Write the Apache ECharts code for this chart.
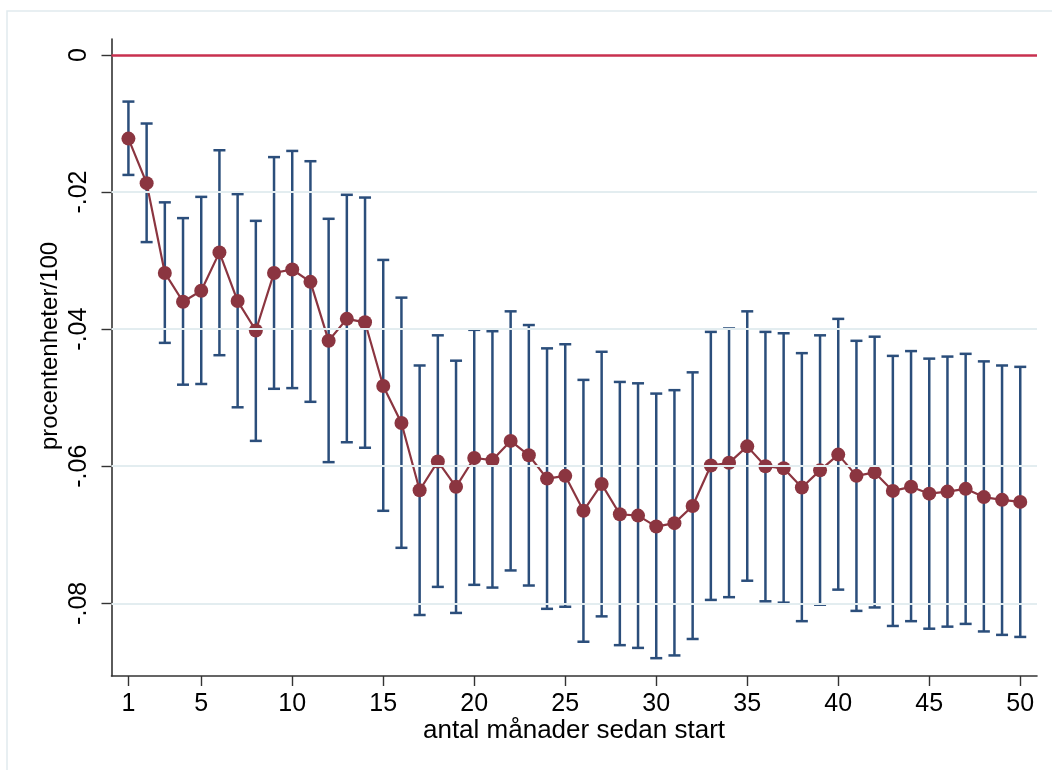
<!DOCTYPE html>
<html><head><meta charset="utf-8">
<script src="https://cdn.jsdelivr.net/npm/echarts@6/dist/echarts.min.js"></script>
<style>html,body{margin:0;padding:0;background:#fff}#c{width:1052px;height:770px}</style>
</head><body><div id="c"></div>
<script>
const months = [1,2,3,4,5,6,7,8,9,10,11,12,13,14,15,16,17,18,19,20,21,22,23,24,25,26,27,28,29,30,31,32,33,34,35,36,37,38,39,40,41,42,43,44,45,46,47,48,49,50];
const estimates = [-0.0122,-0.0187,-0.0318,-0.0360,-0.0344,-0.0288,-0.0359,-0.0402,-0.0318,-0.0313,-0.0331,-0.0417,-0.0385,-0.0390,-0.0483,-0.0537,-0.0635,-0.0593,-0.0630,-0.0588,-0.0591,-0.0563,-0.0584,-0.0618,-0.0614,-0.0665,-0.0626,-0.0670,-0.0672,-0.0688,-0.0683,-0.0658,-0.0599,-0.0595,-0.0571,-0.0600,-0.0603,-0.0631,-0.0606,-0.0583,-0.0614,-0.0609,-0.0636,-0.0630,-0.0640,-0.0637,-0.0633,-0.0645,-0.0649,-0.0652];
const upper = [-0.0068,-0.0100,-0.0215,-0.0238,-0.0207,-0.0139,-0.0203,-0.0242,-0.0149,-0.0140,-0.0155,-0.0239,-0.0204,-0.0208,-0.0299,-0.0354,-0.0453,-0.0409,-0.0446,-0.0401,-0.0403,-0.0374,-0.0394,-0.0428,-0.0422,-0.0474,-0.0433,-0.0477,-0.0479,-0.0494,-0.0489,-0.0463,-0.0404,-0.0399,-0.0374,-0.0404,-0.0406,-0.0435,-0.0409,-0.0385,-0.0417,-0.0411,-0.0439,-0.0432,-0.0443,-0.0440,-0.0436,-0.0447,-0.0453,-0.0455];
const lower = [-0.0175,-0.0273,-0.0420,-0.0481,-0.0480,-0.0438,-0.0514,-0.0563,-0.0487,-0.0486,-0.0506,-0.0594,-0.0565,-0.0573,-0.0665,-0.0719,-0.0817,-0.0776,-0.0814,-0.0773,-0.0777,-0.0752,-0.0774,-0.0808,-0.0805,-0.0856,-0.0819,-0.0861,-0.0865,-0.0880,-0.0876,-0.0852,-0.0795,-0.0791,-0.0767,-0.0797,-0.0799,-0.0826,-0.0802,-0.0780,-0.0811,-0.0806,-0.0833,-0.0826,-0.0837,-0.0834,-0.0830,-0.0841,-0.0846,-0.0849];
const xTicks = [1,5,10,15,20,25,30,35,40,45,50];
const yTicks = [0,-0.02,-0.04,-0.06,-0.08];
const yTickLabels = ['0','-.02','-.04','-.06','-.08'];
const gridValues = [-0.02,-0.04,-0.06,-0.08];
const refValue = [0];
const xTitle = 'antal månader sedan start';
const yTitle = 'procentenheter/100';

const FONT = '"Liberation Sans", Arial, Helvetica, sans-serif';
const chart = echarts.init(document.getElementById('c'), null, {renderer:'canvas'});

const errData = months.map((m,i)=>[m, lower[i], upper[i]]);
const lineData = months.map((m,i)=>[m, estimates[i]]);

chart.setOption({
  animation:false,
  backgroundColor:'#fff',
  grid:{left:111.5, right:15, top:39, bottom:94, containLabel:false},
  xAxis:{
    type:'value', min:0.07, max:50.92,
    axisLine:{show:true, onZero:false, lineStyle:{color:'#333', width:1.6}},
    axisTick:{show:true, length:10, customValues:xTicks, lineStyle:{color:'#333', width:1.4}},
    axisLabel:{show:true, customValues:xTicks, margin:16, fontSize:25, color:'#000', fontFamily:FONT},
    splitLine:{show:false}
  },
  yAxis:{
    type:'value', min:-0.0906, max:0.00233,
    axisLine:{show:true, onZero:false, lineStyle:{color:'#333', width:1.6}},
    axisTick:{show:true, length:10, customValues:yTicks, lineStyle:{color:'#333', width:1.4}},
    axisLabel:{show:true, customValues:yTicks, rotate:90, margin:20, fontSize:25, color:'#000', fontFamily:FONT,
      formatter:function(v){ let i = yTicks.findIndex(t=>Math.abs(t-v)<1e-9); return i>=0 ? yTickLabels[i] : ''; }},
    splitLine:{show:false}
  },
  graphic:[
    {type:'rect', silent:true, z:-10, shape:{x:7, y:11, width:1100, height:900}, style:{fill:null, stroke:'#e1eaee', lineWidth:1.5}},
    {type:'text', silent:true, x:574, y:731, style:{text:xTitle, textAlign:'center', textVerticalAlign:'middle', fontSize:26, fontFamily:FONT, fill:'#000'}},
    {type:'text', silent:true, x:50, y:346, rotation:Math.PI/2, style:{text:yTitle, textAlign:'center', textVerticalAlign:'middle', fontSize:24, fontFamily:FONT, fill:'#000'}}
  ],
  series:[
    {type:'line', data:[], z:1, silent:true,
      markLine:{silent:true, symbol:'none', label:{show:false}, animation:false,
        lineStyle:{color:'#e3edf0', width:2, type:'solid'},
        data:gridValues.map(v=>({yAxis:v}))}},
    {type:'line', data:[], z:2, silent:true,
      markLine:{silent:true, symbol:'none', label:{show:false}, animation:false,
        lineStyle:{color:'#c8304f', width:2.5, type:'solid'},
        data:refValue.map(v=>({yAxis:v}))}},
    {type:'custom', z:3, silent:true, data:errData, encode:{x:0, y:[1,2]},
      renderItem:function(params, api){
        const x = api.value(0);
        const lo = api.coord([x, api.value(1)]);
        const hi = api.coord([x, api.value(2)]);
        const hw = 6;
        const st = {stroke:'#2b4e7b', lineWidth:2.5, fill:null};
        return {type:'group', children:[
          {type:'line', shape:{x1:lo[0], y1:lo[1], x2:hi[0], y2:hi[1]}, style:st},
          {type:'line', shape:{x1:lo[0]-hw, y1:lo[1], x2:lo[0]+hw, y2:lo[1]}, style:st},
          {type:'line', shape:{x1:hi[0]-hw, y1:hi[1], x2:hi[0]+hw, y2:hi[1]}, style:st}
        ]};
      }},
    {type:'line', z:4, data:lineData, symbol:'circle', symbolSize:14, showSymbol:true,
      itemStyle:{color:'#8b3540', borderWidth:0},
      lineStyle:{color:'#8b3540', width:2.2}}
  ]
});
</script></body></html>
